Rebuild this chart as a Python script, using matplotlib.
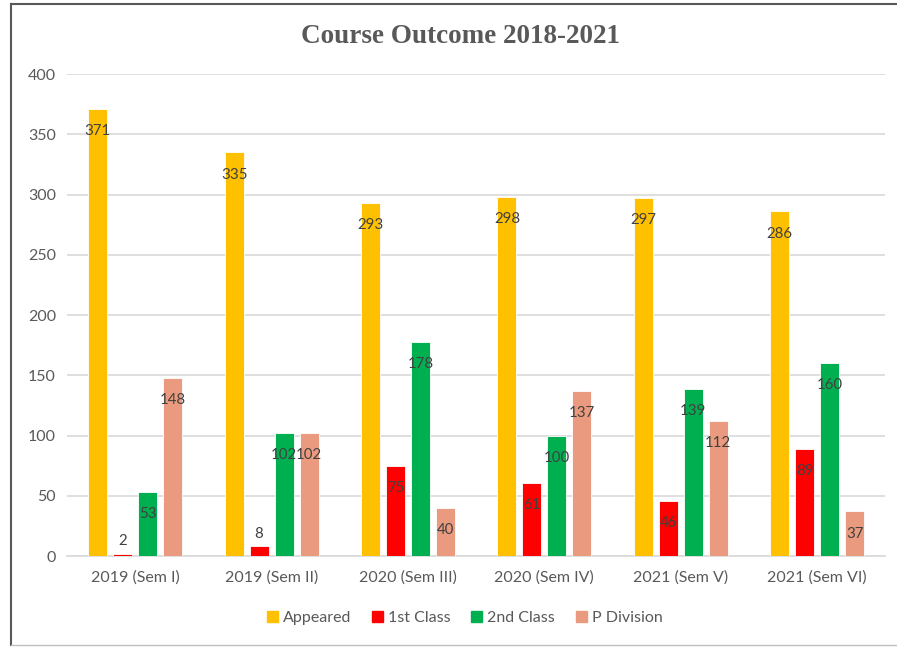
import numpy as np
from matplotlib import pyplot as plt
from matplotlib.patches import Rectangle
from matplotlib.lines import Line2D

categories = ["2019 (Sem I)", "2019 (Sem II)", "2020 (Sem III)",
              "2020 (Sem IV)", "2021 (Sem V)", "2021 (Sem VI)"]
appeared = [371, 335, 293, 298, 297, 286]
first_class = [2, 8, 75, 61, 46, 89]
second_class = [53, 102, 178, 100, 139, 160]
p_division = [148, 102, 40, 137, 112, 37]

series = [("Appeared", appeared, "#FFC000"),
          ("1st Class", first_class, "#FF0000"),
          ("2nd Class", second_class, "#00B050"),
          ("P Division", p_division, "#EA9A7E")]

plt.rcParams['font.family'] = ['Lato', 'DejaVu Sans']

fig = plt.figure(figsize=(8.97, 6.47), dpi=100)
ax = fig.add_axes([0.0747, 0.1406, 0.9123, 0.745])

x = np.arange(len(categories))
pitch = 0.183
width = 0.139
for i, (name, vals, col) in enumerate(series):
    pos = x + (i - 1.5) * pitch
    ax.bar(pos, vals, width, color=col, edgecolor="white", linewidth=0.6, zorder=3)
    for px, v in zip(pos, vals):
        if v < 20:
            ax.annotate(str(v), (px, v), xytext=(0, 4), textcoords="offset points",
                        ha="center", va="bottom", fontsize=10.8, color="#404040", zorder=4)
        else:
            ax.annotate(str(v), (px, v), xytext=(0, -16), textcoords="offset points",
                        ha="center", va="center", fontsize=10.8, color="#404040", zorder=4)

ax.set_xlim(-0.5, 5.5)
ax.set_ylim(0, 400)
ax.set_yticks(range(0, 401, 50))
ax.set_xticks(x)
ax.set_xticklabels(categories)
ax.tick_params(length=0, labelsize=11.5, labelcolor="#595959", pad=8)
ax.tick_params(axis="x", pad=10)
ax.grid(axis="y", color="#D9D9D9", linewidth=1.2, zorder=0)
for s in ["top", "right", "left"]:
    ax.spines[s].set_visible(False)
ax.spines["bottom"].set_color("#D9D9D9")
ax.spines["bottom"].set_linewidth(1.2)

fig.text(0.513, 0.944, "Course Outcome 2018-2021", ha="center", va="center",
         fontsize=19.5, fontweight="bold", color="#595959", family="Liberation Serif")

handles = [Rectangle((0, 0), 1, 1, color=c) for _, _, c in series]
fig.legend(handles, [n for n, _, _ in series], loc="center", bbox_to_anchor=(0.518, 0.045),
           ncol=4, frameon=False, fontsize=11.5, handlelength=0.7, handleheight=0.7,
           handletextpad=0.3, columnspacing=1.3, labelcolor="#595959")

# chart frame
fig.add_artist(Line2D([11/897, 11/897], [0.003, 1 - 4/647], color="#595959", lw=1.5,
                      transform=fig.transFigure))
fig.add_artist(Line2D([11/897, 1], [1 - 4/647, 1 - 4/647], color="#595959", lw=1.5,
                      transform=fig.transFigure))
fig.add_artist(Line2D([11/897, 1], [0.003, 0.003], color="#BFBFBF", lw=1,
                      transform=fig.transFigure))

fig.savefig("out.png", dpi=100)
